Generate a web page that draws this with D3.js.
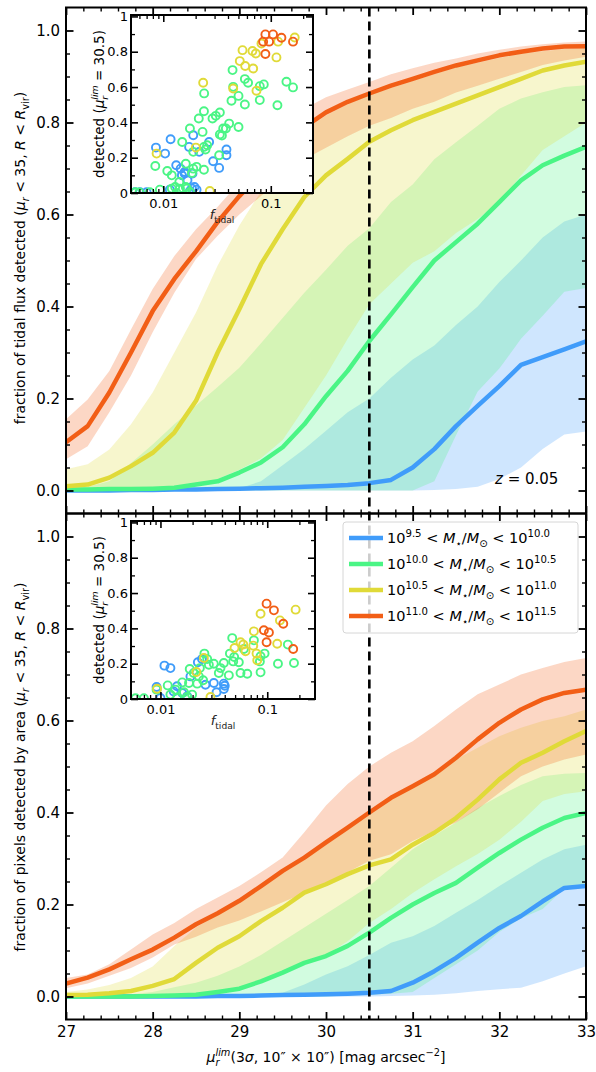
<!DOCTYPE html>
<html>
<head>
<meta charset="utf-8">
<script src="https://cdn.jsdelivr.net/npm/d3@7"></script>
<style>
  body { margin: 0; background: #fff; }
  svg { display: block; font-family: "DejaVu Sans", sans-serif; }
</style>
</head>
<body>
<svg id="fig" width="596" height="1072"></svg>
<script>
// magnitude limits sampled along the x axis
var mags = [27, 27.25, 27.5, 27.75, 28, 28.25, 28.5, 28.75, 29, 29.25, 29.5, 29.75, 30,
            30.25, 30.5, 30.75, 31, 31.25, 31.5, 31.75, 32, 32.25, 32.5, 32.75, 33];

var binLo = ['9.5', '10.0', '10.5', '11.0'];
var binHi = ['10.0', '10.5', '11.0', '11.5'];
var binColors = ['#409cfa', '#4af585', '#e0da38', '#f25e16'];

// top panel: fraction of tidal flux detected (median, 16th, 84th)
var fluxMed1 = [0, 0, 0, 0.001, 0.001, 0.002, 0.002, 0.003, 0.004, 0.005, 0.006, 0.008, 0.010, 0.012, 0.016, 0.023, 0.050, 0.090, 0.140, 0.184, 0.227, 0.273, 0.290, 0.307, 0.324];
var fluxLo1  = [0, 0, 0, 0, 0, 0, 0, 0, 0, 0, 0, 0, 0, 0, 0, 0, 0, 0.001, 0.003, 0.008, 0.025, 0.050, 0.090, 0.122, 0.128];
var fluxHi1  = [0, 0, 0.001, 0.001, 0.002, 0.002, 0.003, 0.003, 0.005, 0.020, 0.055, 0.090, 0.130, 0.170, 0.200, 0.245, 0.285, 0.315, 0.360, 0.400, 0.453, 0.500, 0.550, 0.585, 0.600];

var fluxMed2 = [0.002, 0.002, 0.003, 0.003, 0.004, 0.006, 0.013, 0.020, 0.039, 0.061, 0.094, 0.144, 0.205, 0.260, 0.325, 0.383, 0.442, 0.500, 0.540, 0.580, 0.627, 0.674, 0.707, 0.728, 0.747];
var fluxLo2  = [0, 0, 0, 0, 0, 0, 0, 0, 0, 0, 0, 0, 0, 0, 0, 0, 0, 0.020, 0.120, 0.215, 0.265, 0.330, 0.380, 0.432, 0.440];
var fluxHi2  = [0.005, 0.008, 0.020, 0.060, 0.100, 0.144, 0.185, 0.225, 0.267, 0.320, 0.375, 0.430, 0.480, 0.532, 0.570, 0.627, 0.665, 0.720, 0.757, 0.793, 0.830, 0.852, 0.866, 0.877, 0.881];

var fluxMed3 = [0.009, 0.013, 0.028, 0.053, 0.082, 0.126, 0.195, 0.300, 0.394, 0.492, 0.568, 0.638, 0.685, 0.721, 0.758, 0.783, 0.805, 0.823, 0.841, 0.859, 0.877, 0.895, 0.913, 0.924, 0.932];
var fluxLo3  = [0, 0, 0, 0, 0.002, 0.005, 0.010, 0.025, 0.045, 0.070, 0.110, 0.180, 0.250, 0.330, 0.405, 0.450, 0.495, 0.520, 0.560, 0.590, 0.627, 0.685, 0.740, 0.770, 0.800];
var fluxHi3  = [0.046, 0.057, 0.089, 0.144, 0.213, 0.300, 0.387, 0.489, 0.576, 0.650, 0.720, 0.785, 0.815, 0.840, 0.860, 0.875, 0.890, 0.905, 0.920, 0.930, 0.940, 0.950, 0.955, 0.960, 0.962];

var fluxMed4 = [0.105, 0.140, 0.213, 0.300, 0.390, 0.460, 0.520, 0.584, 0.640, 0.690, 0.740, 0.790, 0.822, 0.845, 0.863, 0.880, 0.895, 0.910, 0.924, 0.935, 0.946, 0.954, 0.961, 0.965, 0.966];
var fluxLo4  = [0.068, 0.096, 0.170, 0.250, 0.344, 0.430, 0.503, 0.554, 0.600, 0.640, 0.680, 0.720, 0.745, 0.770, 0.793, 0.810, 0.830, 0.845, 0.865, 0.880, 0.895, 0.910, 0.925, 0.935, 0.943];
var fluxHi4  = [0.155, 0.198, 0.260, 0.350, 0.438, 0.510, 0.568, 0.617, 0.670, 0.720, 0.765, 0.830, 0.855, 0.872, 0.888, 0.905, 0.918, 0.930, 0.939, 0.950, 0.958, 0.965, 0.970, 0.974, 0.976];

// bottom panel: fraction of pixels detected by area
var areaMed1 = [0, 0, 0, 0, 0, 0, 0, 0.001, 0.001, 0.002, 0.003, 0.004, 0.005, 0.006, 0.008, 0.012, 0.030, 0.055, 0.084, 0.117, 0.149, 0.175, 0.207, 0.236, 0.240];
var areaLo1  = [0, 0, 0, 0, 0, 0, 0, 0, 0, 0, 0, 0, 0, 0, 0, 0.001, 0.002, 0.004, 0.007, 0.012, 0.016, 0.019, 0.033, 0.050, 0.066];
var areaHi1  = [0, 0, 0, 0, 0, 0, 0.001, 0.002, 0.003, 0.004, 0.008, 0.026, 0.048, 0.066, 0.090, 0.117, 0.131, 0.153, 0.182, 0.210, 0.240, 0.269, 0.298, 0.320, 0.330];

var areaMed2 = [0, 0, 0, 0, 0.001, 0.002, 0.004, 0.010, 0.017, 0.033, 0.052, 0.073, 0.088, 0.110, 0.139, 0.171, 0.200, 0.225, 0.247, 0.280, 0.312, 0.341, 0.367, 0.388, 0.399];
var areaLo2  = [0, 0, 0, 0, 0, 0, 0, 0, 0, 0, 0, 0, 0, 0.002, 0.004, 0.006, 0.010, 0.040, 0.070, 0.100, 0.140, 0.170, 0.190, 0.235, 0.240];
var areaHi2  = [0.002, 0.003, 0.004, 0.005, 0.010, 0.020, 0.030, 0.045, 0.065, 0.090, 0.120, 0.150, 0.180, 0.210, 0.240, 0.280, 0.320, 0.350, 0.378, 0.410, 0.436, 0.460, 0.479, 0.484, 0.486];

var areaMed3 = [0.003, 0.004, 0.007, 0.012, 0.023, 0.038, 0.073, 0.106, 0.131, 0.164, 0.193, 0.226, 0.244, 0.266, 0.285, 0.298, 0.330, 0.356, 0.388, 0.428, 0.472, 0.508, 0.530, 0.555, 0.577];
var areaLo3  = [0, 0, 0, 0, 0, 0.001, 0.003, 0.010, 0.016, 0.030, 0.050, 0.070, 0.090, 0.120, 0.160, 0.190, 0.225, 0.255, 0.283, 0.310, 0.341, 0.380, 0.425, 0.440, 0.446];
var areaHi3  = [0.010, 0.015, 0.025, 0.040, 0.065, 0.110, 0.150, 0.178, 0.204, 0.236, 0.268, 0.298, 0.330, 0.362, 0.398, 0.430, 0.455, 0.479, 0.515, 0.541, 0.566, 0.584, 0.599, 0.609, 0.624];

var areaMed4 = [0.028, 0.041, 0.059, 0.081, 0.102, 0.128, 0.157, 0.181, 0.208, 0.240, 0.273, 0.302, 0.335, 0.367, 0.400, 0.432, 0.457, 0.483, 0.519, 0.559, 0.595, 0.624, 0.646, 0.660, 0.667];
var areaLo4  = [0.018, 0.028, 0.045, 0.062, 0.085, 0.113, 0.130, 0.150, 0.165, 0.185, 0.205, 0.225, 0.245, 0.270, 0.295, 0.309, 0.338, 0.360, 0.378, 0.407, 0.443, 0.479, 0.500, 0.515, 0.526];
var areaHi4  = [0.040, 0.048, 0.070, 0.102, 0.135, 0.160, 0.190, 0.215, 0.240, 0.270, 0.302, 0.357, 0.415, 0.462, 0.500, 0.530, 0.555, 0.588, 0.624, 0.657, 0.678, 0.700, 0.714, 0.727, 0.736];

// inset scatter: [f_tidal, fraction detected at mu_lim = 30.5]
var insetFlux1 = [[0.0117,0.304],[0.019,0.327],[0.00855,0.257],[0.0104,0.223],[0.0174,0.261],[0.0267,0.289],[0.0387,0.246],[0.0387,0.214],[0.0216,0.233],[0.0132,0.157],[0.0145,0.138],[0.0158,0.11],[0.0158,0.119],[0.0187,0.11],[0.0168,0.072],[0.0291,0.18],[0.0331,0.142],[0.0149,0.10],[0.0204,0.019],[0.0177,0.011],[0.0115,0.019],[0.00546,0.004],[0.00607,0.004],[0.007,0.004],[0.0185,0.025],[0.0195,0.034]];
var insetFlux2 = [[0.0441,0.696],[0.0574,0.645],[0.0447,0.601],[0.0615,0.624],[0.079,0.605],[0.0861,0.615],[0.1398,0.63],[0.161,0.598],[0.024,0.564],[0.0431,0.522],[0.0501,0.55],[0.079,0.526],[0.0574,0.501],[0.1153,0.497],[0.0239,0.463],[0.0308,0.437],[0.0336,0.456],[0.0287,0.422],[0.0214,0.422],[0.0361,0.365],[0.0382,0.365],[0.041,0.393],[0.0336,0.331],[0.0501,0.374],[0.0177,0.365],[0.0232,0.346],[0.0351,0.325],[0.015,0.289],[0.0239,0.261],[0.0256,0.27],[0.0247,0.246],[0.0331,0.214],[0.019,0.233],[0.00843,0.153],[0.0109,0.125],[0.012,0.10],[0.0162,0.166],[0.019,0.138],[0.0239,0.132],[0.0204,0.148],[0.0185,0.113],[0.0141,0.062],[0.0162,0.034],[0.0129,0.034],[0.0143,0.025],[0.0093,0.019],[0.012,0.025],[0.0165,0.025],[0.0177,0.006],[0.0133,0.0],[0.0055,0.004],[0.006,0.003],[0.0075,0.004]];
var insetFlux3 = [[0.167,0.881],[0.117,0.857],[0.0819,0.847],[0.0546,0.809],[0.0675,0.804],[0.1129,0.768],[0.0515,0.747],[0.0578,0.719],[0.0726,0.79],[0.0686,0.705],[0.0235,0.624],[0.0447,0.592],[0.0736,0.579],[0.00867,0.223],[0.0201,0.257],[0.0271,0.011]];
var insetFlux4 = [[0.0891,0.898],[0.105,0.898],[0.1256,0.879],[0.0849,0.857],[0.0965,0.857],[0.161,0.857],[0.0891,0.787]];

var insetArea1 = [[0.0109,0.189],[0.0124,0.175],[0.0224,0.208],[0.0245,0.226],[0.0191,0.128],[0.0316,0.091],[0.0392,0.087],[0.040,0.075],[0.0392,0.057],[0.0335,0.038],[0.0143,0.072],[0.0092,0.068],[0.0133,0.043],[0.016,0.034],[0.010,0.006],[0.0178,0.015],[0.0264,0.081]];
var insetArea2 = [[0.047,0.345],[0.075,0.332],[0.156,0.308],[0.0604,0.283],[0.0866,0.242],[0.0944,0.257],[0.0853,0.213],[0.126,0.2],[0.178,0.204],[0.0562,0.147],[0.065,0.143],[0.0866,0.151],[0.048,0.213],[0.0447,0.257],[0.049,0.238],[0.0542,0.208],[0.0392,0.204],[0.0365,0.175],[0.0316,0.2],[0.0352,0.147],[0.0437,0.134],[0.0258,0.257],[0.0274,0.226],[0.0284,0.194],[0.0234,0.175],[0.0205,0.147],[0.0188,0.17],[0.0229,0.128],[0.0251,0.106],[0.0221,0.087],[0.0185,0.091],[0.016,0.094],[0.0138,0.053],[0.0166,0.038],[0.0117,0.077],[0.0124,0.025],[0.0198,0.025],[0.0092,0.053],[0.0178,0.011],[0.0143,0.006],[0.00584,0.004],[0.007,0.004]];
var insetArea3 = [[0.0866,0.483],[0.1315,0.445],[0.1844,0.506],[0.075,0.383],[0.0562,0.321],[0.0596,0.308],[0.0494,0.289],[0.0626,0.27],[0.074,0.302],[0.0794,0.257],[0.0806,0.219],[0.124,0.313],[0.0255,0.232],[0.0217,0.153],[0.0093,0.058],[0.0294,0.011]];
var insetArea4 = [[0.0986,0.54],[0.1155,0.502],[0.093,0.389],[0.1037,0.377],[0.0986,0.321],[0.1413,0.426],[0.175,0.283]];

var bins = binColors.map(function(c, i) {
	return { color: c, lo: binLo[i], hi: binHi[i] };
});
var fluxSeries = [
	{ med: fluxMed1, lo: fluxLo1, hi: fluxHi1 }, { med: fluxMed2, lo: fluxLo2, hi: fluxHi2 },
	{ med: fluxMed3, lo: fluxLo3, hi: fluxHi3 }, { med: fluxMed4, lo: fluxLo4, hi: fluxHi4 }];
var areaSeries = [
	{ med: areaMed1, lo: areaLo1, hi: areaHi1 }, { med: areaMed2, lo: areaLo2, hi: areaHi2 },
	{ med: areaMed3, lo: areaLo3, hi: areaHi3 }, { med: areaMed4, lo: areaLo4, hi: areaHi4 }];

var FONT = '"DejaVu Sans", sans-serif';
var svg = d3.select('#fig');

var x = d3.scaleLinear().domain([27, 33]).range([66, 586]);
var panels = [
	{ top: 7.5, bottom: 513.5, series: fluxSeries, inset: [insetFlux1, insetFlux2, insetFlux3, insetFlux4],
	  box: { x0: 131, x1: 313, y0: 15, y1: 193, fx: [0.00501, 0.247] } },
	{ top: 513.5, bottom: 1019.5, series: areaSeries, inset: [insetArea1, insetArea2, insetArea3, insetArea4],
	  box: { x0: 131, x1: 315, y0: 521, y1: 699, fx: [0.0053, 0.28] } }
];

/**
 * Mathtext-ish rich text. parts are [text, kind, subText]; kind is any of
 * 'i' (italic), 'sub', 'sup', 'isub', 'isup', or 'stack' (sup text with sub text under it)
 */
function richText(sel, parts, size) {
	var shift = 0, pendingDx = 0;
	var sub = 0.28 * size, sup = -0.42 * size, small = 0.7 * size;

	function piece(txt, dy, fs, italic) {
		var t = sel.append('tspan').text(txt).attr('font-size', fs).attr('dy', dy);
		if (italic) t.attr('font-style', 'italic');
		if (pendingDx) { t.attr('dx', pendingDx); pendingDx = 0; }
		return t;
	}

	parts.forEach(function(p) {
		var kind = p[1] || '';
		if (kind === 'stack') {
			var a = piece(p[0], sup - shift, small, true);
			var wa = a.node().getComputedTextLength();
			pendingDx = -wa;
			var b = piece(p[2], sub - sup, small, true);
			var wb = b.node().getComputedTextLength();
			pendingDx = Math.max(wa - wb, 0);
			shift = sub;
			return;
		}
		var target = 0, fs = size;
		if (kind.indexOf('sub') >= 0) { target = sub; fs = small; }
		if (kind.indexOf('sup') >= 0) { target = sup; fs = small; }
		piece(p[0], target - shift, fs, kind.charAt(0) === 'i');
		shift = target;
	});
}

function styleAxis(g, w) {
	g.select('.domain').remove();
	g.selectAll('line').attr('stroke', '#000').attr('stroke-width', w);
	g.selectAll('text').attr('fill', '#000').attr('font-family', FONT);
	g.attr('font-family', FONT);
}

function addTicks(g, axisFn, scale, values, len, w, fmt, pad, fs) {
	var ax = axisFn(scale).tickValues(values).tickSizeInner(-len).tickSizeOuter(0)
		.tickPadding(pad || 3).tickFormat(fmt || function() { return ''; });
	g.call(ax);
	styleAxis(g, w);
	if (fs) g.selectAll('text').attr('font-size', fs);
	else g.selectAll('text').remove();
}

var xMajor = [27, 28, 29, 30, 31, 32, 33];
var xMinor = d3.range(27.2, 33, 0.2).filter(function(v) { return Math.abs(v - Math.round(v)) > 0.01; });
var yMajor = [0, 0.2, 0.4, 0.6, 0.8, 1.0];
var yMinor = d3.range(0, 1.05, 0.05).filter(function(v) { return Math.abs(v * 5 - Math.round(v * 5)) > 0.01; });

panels.forEach(function(p, pi) {
	var y = d3.scaleLinear().domain([-0.05, 1.05]).range([p.bottom, p.top]);
	var clipId = 'clip' + pi;
	svg.append('clipPath').attr('id', clipId).append('rect')
		.attr('x', 66).attr('y', p.top).attr('width', 520).attr('height', p.bottom - p.top);

	var g = svg.append('g').attr('clip-path', 'url(#' + clipId + ')');
	var area = d3.area()
		.x(function(d, i) { return x(mags[i]); })
		.y0(function(d) { return y(d[0]); })
		.y1(function(d) { return y(d[1]); });
	var line = d3.line()
		.x(function(d, i) { return x(mags[i]); })
		.y(function(d) { return y(d); });

	// 16-84 percentile bands first, medians on top
	p.series.forEach(function(s, i) {
		g.append('path')
			.datum(s.lo.map(function(v, j) { return [v, s.hi[j]]; }))
			.attr('d', area)
			.attr('fill', bins[i].color).attr('fill-opacity', 0.25);
	});
	p.series.forEach(function(s, i) {
		g.append('path').datum(s.med).attr('d', line)
			.attr('fill', 'none').attr('stroke', bins[i].color)
			.attr('stroke-width', 4.5).attr('stroke-linejoin', 'round');
	});

	// ticks on all four sides, pointing in
	addTicks(svg.append('g').attr('transform', 'translate(0,' + p.bottom + ')'), d3.axisBottom, x, xMajor, 7.5, 1.8,
		pi === 1 ? function(d) { return d; } : null, 7, pi === 1 ? 15 : null);
	addTicks(svg.append('g').attr('transform', 'translate(0,' + p.bottom + ')'), d3.axisBottom, x, xMinor, 4, 1.4);
	addTicks(svg.append('g').attr('transform', 'translate(0,' + p.top + ')'), d3.axisTop, x, xMajor, 7.5, 1.8);
	addTicks(svg.append('g').attr('transform', 'translate(0,' + p.top + ')'), d3.axisTop, x, xMinor, 4, 1.4);
	addTicks(svg.append('g').attr('transform', 'translate(66,0)'), d3.axisLeft, y, yMajor, 7.5, 1.8,
		d3.format('.1f'), 6, 15);
	addTicks(svg.append('g').attr('transform', 'translate(66,0)'), d3.axisLeft, y, yMinor, 4, 1.4);
	addTicks(svg.append('g').attr('transform', 'translate(586,0)'), d3.axisRight, y, yMajor, 7.5, 1.8);
	addTicks(svg.append('g').attr('transform', 'translate(586,0)'), d3.axisRight, y, yMinor, 4, 1.4);

	svg.append('rect').attr('x', 66).attr('y', p.top).attr('width', 520).attr('height', p.bottom - p.top)
		.attr('fill', 'none').attr('stroke', '#000').attr('stroke-width', 2);
});

// limiting depth marker
svg.append('line')
	.attr('x1', x(30.5)).attr('x2', x(30.5)).attr('y1', 7.5).attr('y2', 1019.5)
	.attr('stroke', '#000').attr('stroke-width', 2.6).attr('stroke-dasharray', '9,5');

// insets
panels.forEach(function(p, pi) {
	var b = p.box;
	var fx = d3.scaleLog().domain(b.fx).range([b.x0, b.x1]);
	var fy = d3.scaleLinear().domain([0, 1.008]).range([b.y1, b.y0]);
	var g = svg.append('g');
	g.append('rect').attr('x', b.x0).attr('y', b.y0).attr('width', b.x1 - b.x0).attr('height', b.y1 - b.y0)
		.attr('fill', '#fff');
	var cid = 'iclip' + pi;
	svg.append('clipPath').attr('id', cid).append('rect')
		.attr('x', b.x0).attr('y', b.y0).attr('width', b.x1 - b.x0).attr('height', b.y1 - b.y0);
	var pts = g.append('g').attr('clip-path', 'url(#' + cid + ')');
	p.inset.forEach(function(set, i) {
		pts.selectAll(null).data(set).enter().append('circle')
			.attr('cx', function(d) { return fx(d[0]); })
			.attr('cy', function(d) { return fy(d[1]); })
			.attr('r', 4).attr('fill', 'none')
			.attr('stroke', bins[i].color).attr('stroke-width', 1.9);
	});

	var fMajor = [0.01, 0.1];
	var fMinor = [0.006, 0.007, 0.008, 0.009, 0.02, 0.03, 0.04, 0.05, 0.06, 0.07, 0.08, 0.09, 0.2]
		.filter(function(v) { return v > b.fx[0] && v < b.fx[1]; });
	var iyMajor = [0, 0.2, 0.4, 0.6, 0.8, 1];
	var iyMinor = [0.1, 0.3, 0.5, 0.7, 0.9];
	var fmtY = function(v) { return v === 0 ? '0' : v === 1 ? '1' : String(v); };

	addTicks(g.append('g').attr('transform', 'translate(0,' + b.y1 + ')'), d3.axisBottom, fx, fMajor, 7, 1.6,
		function(d) { return String(d); }, 6, 13);
	addTicks(g.append('g').attr('transform', 'translate(0,' + b.y1 + ')'), d3.axisBottom, fx, fMinor, 4, 1.3);
	addTicks(g.append('g').attr('transform', 'translate(0,' + b.y0 + ')'), d3.axisTop, fx, fMajor, 7, 1.6);
	addTicks(g.append('g').attr('transform', 'translate(0,' + b.y0 + ')'), d3.axisTop, fx, fMinor, 4, 1.3);
	addTicks(g.append('g').attr('transform', 'translate(' + b.x0 + ',0)'), d3.axisLeft, fy, iyMajor, 7, 1.6,
		fmtY, 3, 13);
	addTicks(g.append('g').attr('transform', 'translate(' + b.x0 + ',0)'), d3.axisLeft, fy, iyMinor, 4, 1.3);
	addTicks(g.append('g').attr('transform', 'translate(' + b.x1 + ',0)'), d3.axisRight, fy, iyMajor, 7, 1.6);
	addTicks(g.append('g').attr('transform', 'translate(' + b.x1 + ',0)'), d3.axisRight, fy, iyMinor, 4, 1.3);

	g.append('rect').attr('x', b.x0).attr('y', b.y0).attr('width', b.x1 - b.x0).attr('height', b.y1 - b.y0)
		.attr('fill', 'none').attr('stroke', '#000').attr('stroke-width', 2);

	var xl = g.append('text').attr('x', (b.x0 + b.x1) / 2).attr('y', b.y1 + 26)
		.attr('text-anchor', 'middle').attr('font-family', FONT).attr('font-size', 13).attr('fill', '#222');
	richText(xl, [['f', 'i'], ['tidal', 'sub']], 13);

	var yl = g.append('text')
		.attr('transform', 'translate(' + (b.x0 - 27) + ',' + ((b.y0 + b.y1) / 2) + ') rotate(-90)')
		.attr('text-anchor', 'middle').attr('font-family', FONT).attr('font-size', 13.5).attr('fill', '#000');
	richText(yl, [['detected ('], ['\u03bc', 'i'], ['lim', 'stack', 'r'], [' = 30.5)']], 13.5);
});

// main axis labels
var yl1 = svg.append('text').attr('transform', 'translate(25,258) rotate(-90)')
	.attr('text-anchor', 'middle').attr('font-family', FONT).attr('font-size', 14).attr('fill', '#000');
richText(yl1, [['fraction of tidal flux detected ('], ['\u03bc', 'i'], ['r', 'isub'], [' < 35, '],
	['R', 'i'], [' < '], ['R', 'i'], ['vir', 'sub'], [')']], 14);

var yl2 = svg.append('text').attr('transform', 'translate(25,767) rotate(-90)')
	.attr('text-anchor', 'middle').attr('font-family', FONT).attr('font-size', 14).attr('fill', '#000');
richText(yl2, [['fraction of pixels detected by area ('], ['\u03bc', 'i'], ['r', 'isub'], [' < 35, '],
	['R', 'i'], [' < '], ['R', 'i'], ['vir', 'sub'], [')']], 14);

var xl = svg.append('text').attr('x', 326).attr('y', 1062)
	.attr('text-anchor', 'middle').attr('font-family', FONT).attr('font-size', 14).attr('fill', '#000');
richText(xl, [['\u03bc', 'i'], ['lim', 'stack', 'r'], ['(3'], ['\u03c3', 'i'], [', 10\u2033 \u00d7 10\u2033) [mag arcsec'],
	['\u22122', 'sup'], [']']], 14);

// redshift tag
var zt = svg.append('text').attr('x', 495).attr('y', 484)
	.attr('font-family', FONT).attr('font-size', 15).attr('fill', '#000');
richText(zt, [['z', 'i'], [' = 0.05']], 15);

// legend
var leg = svg.append('g').attr('transform', 'translate(343,522)');
leg.append('rect').attr('width', 235).attr('height', 111).attr('rx', 3)
	.attr('fill', '#fff').attr('fill-opacity', 0.8).attr('stroke', '#d6d6d6').attr('stroke-width', 1);
bins.forEach(function(bn, i) {
	var yy = 16 + i * 26;
	leg.append('line').attr('x1', 6).attr('x2', 40).attr('y1', yy).attr('y2', yy)
		.attr('stroke', bn.color).attr('stroke-width', 4.5);
	var t = leg.append('text').attr('x', 44).attr('y', yy + 5)
		.attr('font-family', FONT).attr('font-size', 14.5).attr('fill', '#000');
	richText(t, [['10'], [bn.lo, 'sup'], [' < '], ['M', 'i'], ['\u22c6', 'sub'], ['/'], ['M', 'i'], ['\u2299', 'sub'],
		[' < 10'], [bn.hi, 'sup']], 14.5);
});
</script>
</body>
</html>
